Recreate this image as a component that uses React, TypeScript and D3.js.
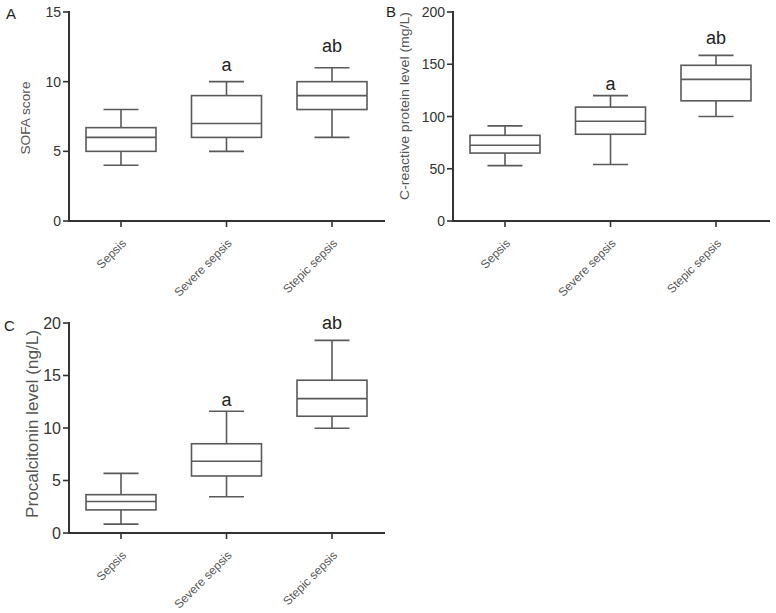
import React from "react";
import * as d3 from "d3";

const categories = ["Sepsis", "Severe sepsis", "Stepic sepsis"];
const annotations = ["", "a", "ab"];

// Panel A: SOFA score
const sofaMin = [4, 5, 6];
const sofaQ1 = [5, 6, 8];
const sofaMedian = [6, 7, 9];
const sofaQ3 = [6.7, 9, 10];
const sofaMax = [8, 10, 11];
const sofaTicks = [0, 5, 10, 15];

// Panel B: C-reactive protein
const crpMin = [53, 54, 100];
const crpQ1 = [65, 83, 115];
const crpMedian = [72.5, 95.5, 135.5];
const crpQ3 = [82, 109, 149];
const crpMax = [91, 120, 158.5];
const crpTicks = [0, 50, 100, 150, 200];

// Panel C: Procalcitonin
const pctMin = [0.85, 3.45, 9.97];
const pctQ1 = [2.2, 5.43, 11.12];
const pctMedian = [3.0, 6.83, 12.8];
const pctQ3 = [3.65, 8.5, 14.55];
const pctMax = [5.68, 11.6, 18.35];
const pctTicks = [0, 5, 10, 15, 20];

type PanelProps = {
  letter: string;
  letterX: number;
  letterY: number;
  x0: number;
  x1: number;
  yTop: number;
  yBottom: number;
  ticks: number[];
  min: number[];
  q1: number[];
  med: number[];
  q3: number[];
  max: number[];
  label: string;
  labelX: number;
  labelY: number;
  labelSize: number;
  labelLen: number;
  tickSize: number;
  annOffsets: number[];
};

const Panel = (p: PanelProps) => {
  const domainMax = p.ticks[p.ticks.length - 1];
  const y = d3.scaleLinear().domain([0, domainMax]).range([p.yBottom, p.yTop]);
  const x = d3.scalePoint<string>().domain(categories).range([p.x0 + 52, p.x0 + 263]);
  const halfBox = 35;
  const halfCap = 17.5;
  const boxColor = "#5a5a5a";
  const axisColor = "#333";
  return (
    <g>
      <text x={p.letterX} y={p.letterY} fontSize={15} fill="#222" fontFamily="Liberation Sans, Arial, sans-serif">
        {p.letter}
      </text>
      <text
        transform={`translate(${p.labelX},${p.labelY}) rotate(-90)`}
        textAnchor="middle"
        dominantBaseline="middle"
        fontSize={p.labelSize}
        fill="#555"
        textLength={p.labelLen}
        lengthAdjust="spacingAndGlyphs"
        fontFamily="Liberation Sans, Arial, sans-serif"
      >
        {p.label}
      </text>
      {/* boxes */}
      {categories.map((c, i) => {
        const cx = x(c)!;
        return (
          <g key={c} stroke={boxColor} strokeWidth={1.6} fill="none">
            <line x1={cx} x2={cx} y1={y(p.max[i])} y2={y(p.q3[i])} />
            <line x1={cx} x2={cx} y1={y(p.q1[i])} y2={y(p.min[i])} />
            <line x1={cx - halfCap} x2={cx + halfCap} y1={y(p.max[i])} y2={y(p.max[i])} />
            <line x1={cx - halfCap} x2={cx + halfCap} y1={y(p.min[i])} y2={y(p.min[i])} />
            <rect x={cx - halfBox} width={halfBox * 2} y={y(p.q3[i])} height={y(p.q1[i]) - y(p.q3[i])} />
            <line x1={cx - halfBox} x2={cx + halfBox} y1={y(p.med[i])} y2={y(p.med[i])} />
          </g>
        );
      })}
      {/* annotations */}
      {categories.map((c, i) =>
        annotations[i] ? (
          <text
            key={"a" + c}
            x={x(c)!}
            y={y(p.max[i]) - p.annOffsets[i]}
            textAnchor="middle"
            fontSize={18}
            fill="#222"
            fontFamily="Liberation Sans, Arial, sans-serif"
          >
            {annotations[i]}
          </text>
        ) : null
      )}
      {/* y axis */}
      <line x1={p.x0} x2={p.x0} y1={p.yTop - 1} y2={p.yBottom + 1} stroke={axisColor} strokeWidth={2} />
      {p.ticks.map((t) => (
        <g key={t}>
          <line x1={p.x0 - 6} x2={p.x0} y1={y(t)} y2={y(t)} stroke={axisColor} strokeWidth={1.6} />
          <text
            x={p.x0 - 8}
            y={y(t)}
            textAnchor="end"
            dominantBaseline="central"
            fontSize={p.tickSize}
            fill="#333"
            fontFamily="Liberation Sans, Arial, sans-serif"
          >
            {t}
          </text>
        </g>
      ))}
      {/* x axis */}
      <line x1={p.x0 - 1} x2={p.x1} y1={p.yBottom} y2={p.yBottom} stroke={axisColor} strokeWidth={2} />
      {categories.map((c) => {
        const cx = x(c)!;
        return (
          <g key={"x" + c}>
            <line x1={cx} x2={cx} y1={p.yBottom} y2={p.yBottom + 6} stroke={axisColor} strokeWidth={1.6} />
            <text
              transform={`translate(${cx + 6},${p.yBottom + 23}) rotate(-45)`}
              textAnchor="end"
              fontSize={12}
              fill="#555"
              fontFamily="Liberation Sans, Arial, sans-serif"
            >
              {c}
            </text>
          </g>
        );
      })}
    </g>
  );
};

export default function App() {
  return (
    <svg
      width={776}
      height={613}
      style={{ position: "absolute", left: 0, top: 0, background: "#fff" }}
    >
      <rect width={776} height={613} fill="#fff" />
      <Panel
        letter="A"
        letterX={6}
        letterY={19}
        x0={69}
        x1={385}
        yTop={12}
        yBottom={221}
        ticks={sofaTicks}
        min={sofaMin}
        q1={sofaQ1}
        med={sofaMedian}
        q3={sofaQ3}
        max={sofaMax}
        label="SOFA score"
        labelX={27}
        labelY={118}
        labelSize={13}
        labelLen={73}
        tickSize={14}
        annOffsets={[0, 11, 16]}
      />
      <Panel
        letter="B"
        letterX={386}
        letterY={17}
        x0={453}
        x1={770}
        yTop={12}
        yBottom={221}
        ticks={crpTicks}
        min={crpMin}
        q1={crpQ1}
        med={crpMedian}
        q3={crpQ3}
        max={crpMax}
        label="C-reactive protein level (mg/L)"
        labelX={406}
        labelY={106}
        labelSize={13}
        labelLen={188}
        tickSize={14}
        annOffsets={[0, 6, 11]}
      />
      <Panel
        letter="C"
        letterX={4}
        letterY={331}
        x0={69}
        x1={385}
        yTop={323}
        yBottom={533}
        ticks={pctTicks}
        min={pctMin}
        q1={pctQ1}
        med={pctMedian}
        q3={pctQ3}
        max={pctMax}
        label="Procalcitonin level (ng/L)"
        labelX={34}
        labelY={424}
        labelSize={17}
        labelLen={188}
        tickSize={16}
        annOffsets={[0, 5, 11]}
      />
    </svg>
  );
}
